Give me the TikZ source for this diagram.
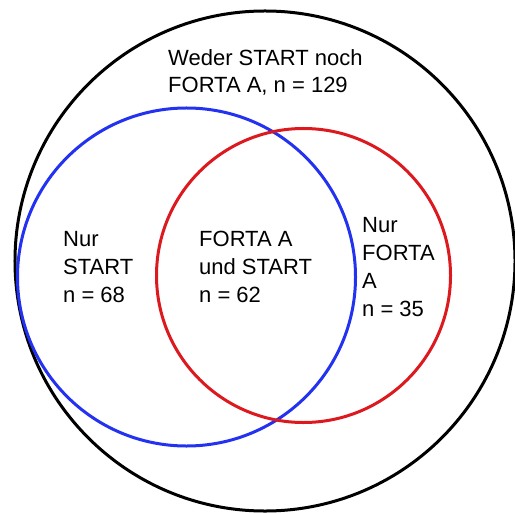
\documentclass[tikz,border=0pt]{standalone}
\usepackage{fontspec}
\setmainfont{Liberation Sans}
\definecolor{vblue}{RGB}{35,50,240}
\definecolor{vred}{RGB}{220,25,30}
\begin{document}
\begin{tikzpicture}[x=1bp,y=-1bp,
  setcircle/.style={line width=3bp},
  lbl/.style={anchor=base west,align=left,inner sep=0pt,font=\fontsize{22.08}{28.1}\selectfont}]
\useasboundingbox (0,0) rectangle (515,513);
\node[setcircle,draw=black,circle,minimum size=500bp,inner sep=0pt] (all) at (265,261) {};
\node[setcircle,draw=vblue,circle,minimum size=338bp,inner sep=0pt] (start) at (186.5,277) {};
\node[setcircle,draw=vred,circle,minimum size=294bp,inner sep=0pt] (forta) at (303.5,275.5) {};
\node[lbl] (neither) at (168,93) {Weder START noch\\FORTA A, n = 129};
\node[lbl] (onlystart) at (63,302) {Nur\\START\\n = 68};
\node[lbl] (both) at (199,302) {FORTA A\\und START\\n = 62};
\node[lbl] (onlyforta) at (362,316) {Nur\\FORTA\\A\\n = 35};
\end{tikzpicture}
\end{document}
